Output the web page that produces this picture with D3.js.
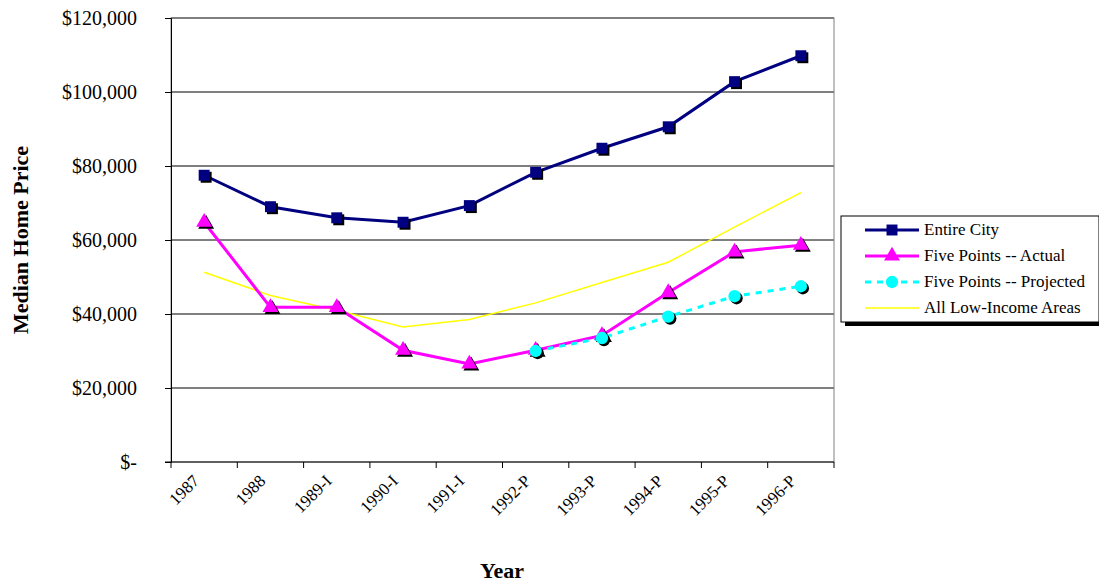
<!DOCTYPE html>
<html><head><meta charset="utf-8">
<script src="https://cdn.jsdelivr.net/npm/d3@7"></script>
<style>body{margin:0;background:#fff}svg text{font-family:'Liberation Serif',serif !important}</style>
</head><body>
<svg id="chart" width="1099" height="584"></svg>
<script>
const years = ["1987","1988","1989-I","1990-I","1991-I","1992-P","1993-P","1994-P","1995-P","1996-P"];
const entireCity = [77500, 69000, 66000, 64800, 69300, 78300, 84800, 90600, 102800, 109800];
const fiveActual = [64800, 41800, 41800, 30200, 26500, 30200, 34200, 45800, 56800, 58600];
const fiveProjected = [null, null, null, null, null, 30000, 33500, 39300, 44800, 47500];
const lowIncome = [51300, 45000, 41000, 36500, 38500, 43000, 48500, 54000, 63500, 72800];
const yTicks = [0, 20000, 40000, 60000, 80000, 100000, 120000];

const svg = d3.select("#chart");
const L = 171, R = 834, T = 18, B = 462;
const x = d3.scaleBand().domain(years).range([L, R]);
const cx = d => x(d) + x.bandwidth() / 2;
const y = d3.scaleLinear().domain([0, 120000]).range([B, T]);

// gridlines
svg.append("g").selectAll("line").data(yTicks.slice(1)).join("line")
  .attr("x1", L).attr("x2", R).attr("y1", d => y(d)).attr("y2", d => y(d))
  .attr("stroke", "#000").attr("stroke-width", 1);
svg.append("rect").attr("x", L).attr("y", T).attr("width", R - L).attr("height", B - T)
  .attr("fill", "none").attr("stroke", "#808080");

// axes
const fmt = d => d === 0 ? "$-" : "$" + d3.format(",")(d);
const ya = svg.append("g").attr("transform", `translate(${L},0)`)
  .call(d3.axisLeft(y).tickValues(yTicks).tickFormat(fmt).tickSize(6).tickPadding(28));
ya.attr("font-size", null).attr("font-family", null);
ya.selectAll("text").style("font-size", "20px").attr("fill", "#000");
ya.select(".domain").attr("stroke", "#000");

const xa = svg.append("g").attr("transform", `translate(0,${B})`);
xa.append("line").attr("x1", L - 6).attr("x2", R).attr("stroke", "#000");
xa.selectAll("line.t").data(d3.range(years.length + 1)).join("line").attr("class", "t")
  .attr("x1", i => L + i * x.bandwidth()).attr("x2", i => L + i * x.bandwidth())
  .attr("y1", 0).attr("y2", 6).attr("stroke", "#000");
xa.selectAll("text").data(years).join("text")
  .attr("transform", d => `translate(${cx(d) - 4},20) rotate(-45)`)
  .attr("text-anchor", "end").style("font-size", "17px").text(d => d);

svg.append("text").attr("x", 502).attr("y", 578).attr("text-anchor", "middle")
  .style("font-size", "22px").attr("font-weight", "bold").text("Year");
svg.append("text").attr("transform", "translate(28,240) rotate(-90)").attr("text-anchor", "middle")
  .style("font-size", "22px").attr("font-weight", "bold").text("Median Home Price");

const pts = arr => years.map((d, i) => [d, arr[i]]).filter(p => p[1] !== null);
const line = d3.line().x(p => cx(p[0])).y(p => y(p[1]));

// series
svg.append("path").datum(pts(lowIncome)).attr("d", line).attr("fill", "none").attr("stroke", "#ffff00").attr("stroke-width", 1.5);
svg.append("path").datum(pts(entireCity)).attr("d", line).attr("fill", "none").attr("stroke", "#000080").attr("stroke-width", 3);
svg.append("path").datum(pts(fiveActual)).attr("d", line).attr("fill", "none").attr("stroke", "#ff00ff").attr("stroke-width", 3);
svg.append("path").datum(pts(fiveProjected)).attr("d", line).attr("fill", "none").attr("stroke", "#00ffff").attr("stroke-width", 3).attr("stroke-dasharray", "6,6");

const sq = d3.symbol().type(d3.symbolSquare).size(120);
const tri = d3.symbol().type(d3.symbolTriangle).size(110);
const circ = d3.symbol().type(d3.symbolCircle).size(120);
function markers(arr, sym, color) {
  const g = svg.append("g");
  g.selectAll("path.s").data(pts(arr)).join("path").attr("class", "s")
    .attr("d", sym).attr("fill", "#000").attr("transform", p => `translate(${cx(p[0]) + 2},${y(p[1]) + 2})`);
  g.selectAll("path.m").data(pts(arr)).join("path").attr("class", "m")
    .attr("d", sym).attr("fill", color).attr("transform", p => `translate(${cx(p[0])},${y(p[1])})`);
}
markers(entireCity, sq, "#000080");
markers(fiveActual, tri, "#ff00ff");
markers(fiveProjected, circ, "#00ffff");

// legend
const legendItems = [
  {name: "Entire City", color: "#000080", sym: sq, w: 3, dash: null},
  {name: "Five Points -- Actual", color: "#ff00ff", sym: tri, w: 3, dash: null},
  {name: "Five Points -- Projected", color: "#00ffff", sym: circ, w: 3, dash: "6,6"},
  {name: "All Low-Income Areas", color: "#ffff00", sym: null, w: 1.5, dash: null}
];
const lg = svg.append("g").attr("transform", "translate(841,216)");
lg.append("rect").attr("x", 4).attr("y", 4).attr("width", 258).attr("height", 106).attr("fill", "#000");
lg.append("rect").attr("width", 258).attr("height", 106).attr("fill", "#fff").attr("stroke", "#000");
legendItems.forEach((it, i) => {
  const gy = 14 + i * 26;
  lg.append("line").attr("x1", 24).attr("x2", 78).attr("y1", gy).attr("y2", gy)
    .attr("stroke", it.color).attr("stroke-width", it.w).attr("stroke-dasharray", it.dash);
  if (it.sym) lg.append("path").attr("d", it.sym).attr("fill", it.color).attr("transform", `translate(51,${gy})`);
  lg.append("text").attr("x", 83).attr("y", gy + 5).style("font-size", "17px").text(it.name);
});
</script>
</body></html>
